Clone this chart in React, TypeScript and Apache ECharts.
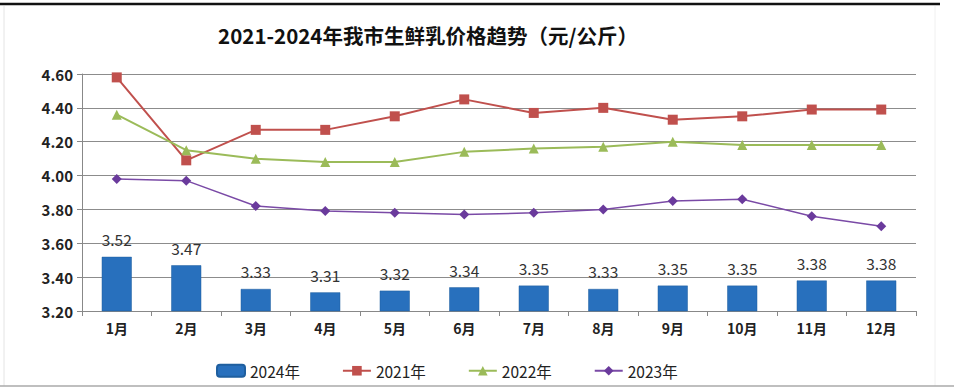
import React, { useEffect, useRef } from "react";
import * as echarts from "echarts";

const categories = ["1月", "2月", "3月", "4月", "5月", "6月", "7月", "8月", "9月", "10月", "11月", "12月"];
const y2024 = [3.52, 3.47, 3.33, 3.31, 3.32, 3.34, 3.35, 3.33, 3.35, 3.35, 3.38, 3.38];
const y2021 = [4.58, 4.09, 4.27, 4.27, 4.35, 4.45, 4.37, 4.40, 4.33, 4.35, 4.39, 4.39];
const y2022 = [4.36, 4.15, 4.10, 4.08, 4.08, 4.14, 4.16, 4.17, 4.20, 4.18, 4.18, 4.18];
const y2023 = [3.98, 3.97, 3.82, 3.79, 3.78, 3.77, 3.78, 3.80, 3.85, 3.86, 3.76, 3.70];
const titleText = "2021-2024年我市生鲜乳价格趋势（元/公斤）";

export default function App() {
  const ref = useRef<HTMLDivElement>(null);
  useEffect(() => {
    const chart = echarts.init(ref.current!, undefined, { renderer: "svg" });
    const font = "'Noto Sans CJK SC', 'Noto Sans', sans-serif";
    chart.setOption({
      animation: false,
      textStyle: { fontFamily: font },
      title: {
        text: titleText,
        left: 423,
        textAlign: "center",
        top: 20,
        textStyle: { fontSize: 20.5, fontWeight: "bold", color: "#111", fontFamily: font },
      },
      graphic: [
        { type: "line", shape: { x1: 0, y1: 4, x2: 940, y2: 4 }, style: { stroke: "#111", lineWidth: 2.5 } },
        { type: "line", shape: { x1: 4, y1: 6, x2: 4, y2: 386 }, style: { stroke: "#e4e4e4", lineWidth: 1 } },
        { type: "line", shape: { x1: 935, y1: 6, x2: 935, y2: 386 }, style: { stroke: "#f0f0f0", lineWidth: 1 } },
        { type: "line", shape: { x1: 0, y1: 386, x2: 954, y2: 386 }, style: { stroke: "#aaa", lineWidth: 1.5 } },
      ],
      legend: {
        left: 211,
        top: 358,
        itemGap: 42,
        itemWidth: 28,
        itemHeight: 12,
        textStyle: { fontSize: 15.5, color: "#222", fontFamily: font },
        data: ["2024年", "2021年", "2022年", "2023年"],
      },
      grid: { left: 82, right: 38, top: 74, bottom: 78, containLabel: false },
      xAxis: {
        type: "category",
        data: categories,
        axisLine: { lineStyle: { color: "#888" } },
        axisTick: { show: true, lineStyle: { color: "#888" } },
        axisLabel: { fontSize: 14, fontWeight: "bold", color: "#222", margin: 10, fontFamily: font },
      },
      yAxis: {
        type: "value",
        min: 3.2,
        max: 4.6,
        interval: 0.2,
        axisLine: { show: true, lineStyle: { color: "#888" } },
        axisTick: { show: true, lineStyle: { color: "#888" } },
        splitLine: { lineStyle: { color: "#8c8c8c", width: 1 } },
        axisLabel: {
          fontSize: 15,
          fontWeight: 600,
          color: "#222",
          margin: 9,
          fontFamily: font,
          formatter: (v: number) => v.toFixed(2),
        },
      },
      series: [
        {
          name: "2024年",
          type: "bar",
          data: y2024,
          barWidth: 30,
          itemStyle: { color: "#2870bd", borderColor: "#1f5f9f", borderWidth: 0.5 },
          label: {
            show: true,
            position: "top",
            distance: 10,
            fontSize: 15.5,
            color: "#333",
            fontFamily: font,
            formatter: (p: any) => p.value.toFixed(2),
          },
        },
        {
          name: "2021年",
          type: "line",
          data: y2021,
          symbol: "rect",
          symbolSize: 10,
          lineStyle: { color: "#c0504d", width: 2 },
          itemStyle: { color: "#c0504d" },
        },
        {
          name: "2022年",
          type: "line",
          data: y2022,
          symbol: "triangle",
          symbolSize: 10,
          lineStyle: { color: "#9bbb59", width: 2 },
          itemStyle: { color: "#9bbb59" },
        },
        {
          name: "2023年",
          type: "line",
          data: y2023,
          symbol: "diamond",
          symbolSize: 10,
          lineStyle: { color: "#7a4aa6", width: 1.5 },
          itemStyle: { color: "#6a3a9c" },
        },
      ],
    });
    return () => chart.dispose();
  }, []);
  return <div ref={ref} style={{ width: 954, height: 389, position: "absolute", left: 0, top: 0, background: "#fff" }} />;
}
